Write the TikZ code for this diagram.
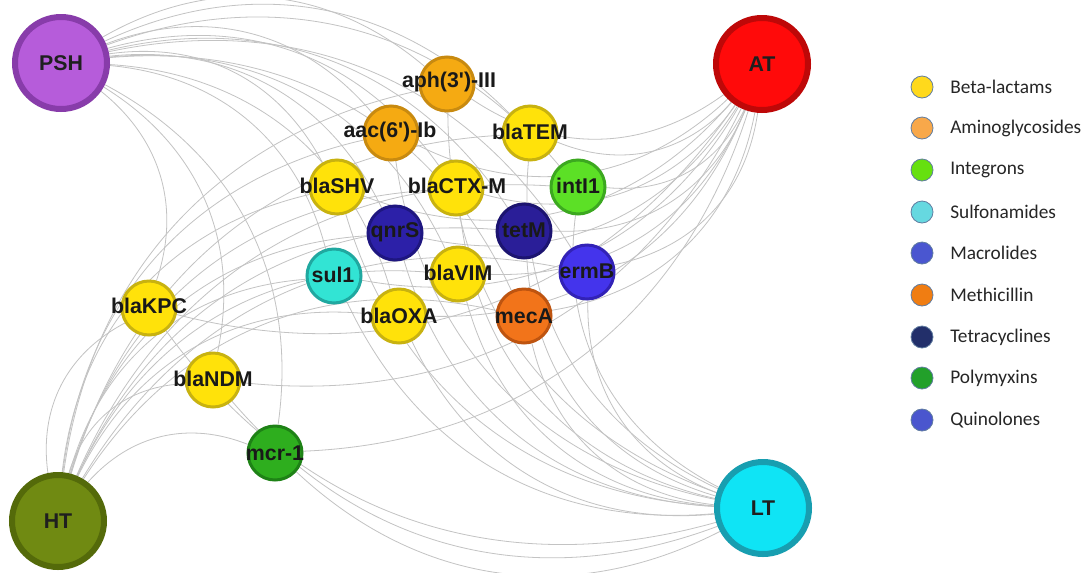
\documentclass[tikz,border=0pt]{standalone}
\usepackage{fontspec}
\setmainfont{Liberation Sans}
\newfontfamily\legfont{Carlito}
\usetikzlibrary{backgrounds}
\definecolor{edgec}{RGB}{195,195,195}
\definecolor{pshF}{RGB}{182,92,218}\definecolor{pshB}{RGB}{136,60,170}
\definecolor{atF}{RGB}{255,10,10}\definecolor{atB}{RGB}{190,8,8}
\definecolor{ltF}{RGB}{15,228,245}\definecolor{ltB}{RGB}{24,158,176}
\definecolor{htF}{RGB}{112,138,18}\definecolor{htB}{RGB}{84,106,10}
\definecolor{yelF}{RGB}{255,226,10}\definecolor{yelB}{RGB}{200,178,16}
\definecolor{amiF}{RGB}{245,170,18}\definecolor{amiB}{RGB}{200,138,16}
\definecolor{intF}{RGB}{92,224,38}\definecolor{intB}{RGB}{60,168,32}
\definecolor{sulF}{RGB}{50,228,212}\definecolor{sulB}{RGB}{32,168,160}
\definecolor{qnrF}{RGB}{44,32,168}\definecolor{qnrB}{RGB}{30,22,128}
\definecolor{tetF}{RGB}{42,30,152}\definecolor{tetB}{RGB}{28,20,112}
\definecolor{ermF}{RGB}{68,52,236}\definecolor{ermB}{RGB}{50,34,182}
\definecolor{mecF}{RGB}{242,116,26}\definecolor{mecB}{RGB}{190,84,16}
\definecolor{mcrF}{RGB}{46,174,30}\definecolor{mcrB}{RGB}{30,130,22}
\definecolor{lgBeta}{RGB}{255,217,28}\definecolor{lgAmino}{RGB}{248,168,74}
\definecolor{lgInt}{RGB}{102,224,15}\definecolor{lgSulf}{RGB}{102,216,224}
\definecolor{lgMac}{RGB}{74,86,208}\definecolor{lgMeth}{RGB}{240,125,18}
\definecolor{lgTet}{RGB}{34,47,106}\definecolor{lgPoly}{RGB}{34,160,42}
\definecolor{lgQuin}{RGB}{74,86,206}\definecolor{lgEdge}{RGB}{96,124,160}
\definecolor{lgText}{RGB}{38,38,38}
\begin{document}
\begin{tikzpicture}[x=0.75pt,y=-0.75pt,
  hub/.style={circle, line width=4.5pt, minimum size=69pt, inner sep=0pt,
    font=\bfseries\fontsize{16}{16}\selectfont, text=black!88},
  gene/.style={circle, line width=2.25pt, minimum size=40.5pt, inner sep=0pt},
  lab/.style={font=\bfseries\fontsize{16}{16}\selectfont, text=black!90, inner sep=0pt},
  edge/.style={draw=edgec, line width=0.6pt},
  legdot/.style={circle, draw=lgEdge, line width=0.6pt, minimum size=16.5pt, inner sep=0pt},
  legtext/.style={anchor=west, font=\legfont\fontsize{14.5}{14.5}\selectfont, text=lgText, inner sep=0pt}
]
\useasboundingbox (0,0) rectangle (1088,572);

% hubs
\node[hub, fill=pshF, draw=pshB] (PSH) at (61,63) {PSH};
\node[hub, fill=atF, draw=atB] (AT) at (762,64) {AT};
\node[hub, fill=ltF, draw=ltB] (LT) at (763,508) {LT};
\node[hub, fill=htF, draw=htB] (HT) at (58,521) {HT};

% genes
\node[gene, fill=amiF, draw=amiB] (aph) at (447,84) {};
\node[gene, fill=amiF, draw=amiB] (aac) at (391,133) {};
\node[gene, fill=yelF, draw=yelB] (blaTEM) at (530,133) {};
\node[gene, fill=yelF, draw=yelB] (blaSHV) at (337,187) {};
\node[gene, fill=yelF, draw=yelB] (blaCTX) at (456,188) {};
\node[gene, fill=intF, draw=intB] (intI) at (578,187) {};
\node[gene, fill=qnrF, draw=qnrB] (qnrS) at (395,233) {};
\node[gene, fill=tetF, draw=tetB] (tetM) at (524,231) {};
\node[gene, fill=sulF, draw=sulB] (sul) at (334,276) {};
\node[gene, fill=yelF, draw=yelB] (blaVIM) at (458,274) {};
\node[gene, fill=ermF, draw=ermB] (ermBn) at (587,272) {};
\node[gene, fill=yelF, draw=yelB] (blaOXA) at (399,316) {};
\node[gene, fill=mecF, draw=mecB] (mecA) at (524,316) {};
\node[gene, fill=yelF, draw=yelB] (blaKPC) at (149,308) {};
\node[gene, fill=yelF, draw=yelB] (blaNDM) at (213,380) {};
\node[gene, fill=mcrF, draw=mcrB] (mcr) at (275,453) {};

% labels
\node[lab] (aph-l) at (449,82) {aph(3\textquotesingle)-III};
\node[lab] (aac-l) at (390,132) {aac(6\textquotesingle)-Ib};
\node[lab] (blaTEM-l) at (530,132) {blaTEM};
\node[lab] (blaSHV-l) at (337,186) {blaSHV};
\node[lab] (blaCTX-l) at (457,186) {blaCTX-M};
\node[lab] (intI-l) at (578,186) {intI1};
\node[lab] (qnrS-l) at (395,232) {qnrS};
\node[lab] (tetM-l) at (524,230) {tetM};
\node[lab] (sul-l) at (333,275) {sul1};
\node[lab] (blaVIM-l) at (458,273) {blaVIM};
\node[lab] (ermB-l) at (587,271) {ermB};
\node[lab] (blaOXA-l) at (399,316) {blaOXA};
\node[lab] (mecA-l) at (524,316) {mecA};
\node[lab] (blaKPC-l) at (149,306) {blaKPC};
\node[lab] (blaNDM-l) at (213,379) {blaNDM};
\node[lab] (mcr-l) at (275,453) {mcr-1};

% edges
\begin{scope}[on background layer]
\fill[white] (0,0) rectangle (1088,572);
\foreach \c in {PSH,AT,HT,LT}{
  \foreach \g in {aph,aac,blaTEM,blaSHV,blaCTX,intI,qnrS,tetM,sul,blaVIM,ermBn,blaOXA,mecA,blaKPC,blaNDM,mcr}{
    \draw[edge] (\c) to[bend left=35] (\g);
  }
}
\end{scope}

% legend
\node[legdot, fill=lgBeta] (d1) at (922,87) {};
\node[legtext] (t1) at (950,87) {Beta-lactams};
\node[legdot, fill=lgAmino] (d2) at (922,128) {};
\node[legtext] (t2) at (950,128) {Aminoglycosides};
\node[legdot, fill=lgInt] (d3) at (922,170) {};
\node[legtext] (t3) at (950,170) {Integrons};
\node[legdot, fill=lgSulf] (d4) at (922,212) {};
\node[legtext] (t4) at (950,212) {Sulfonamides};
\node[legdot, fill=lgMac] (d5) at (922,253) {};
\node[legtext] (t5) at (950,253) {Macrolides};
\node[legdot, fill=lgMeth] (d6) at (922,295) {};
\node[legtext] (t6) at (950,295) {Methicillin};
\node[legdot, fill=lgTet] (d7) at (922,337) {};
\node[legtext] (t7) at (950,337) {Tetracyclines};
\node[legdot, fill=lgPoly] (d8) at (922,378) {};
\node[legtext] (t8) at (950,378) {Polymyxins};
\node[legdot, fill=lgQuin] (d9) at (922,420) {};
\node[legtext] (t9) at (950,420) {Quinolones};
\end{tikzpicture}
\end{document}
